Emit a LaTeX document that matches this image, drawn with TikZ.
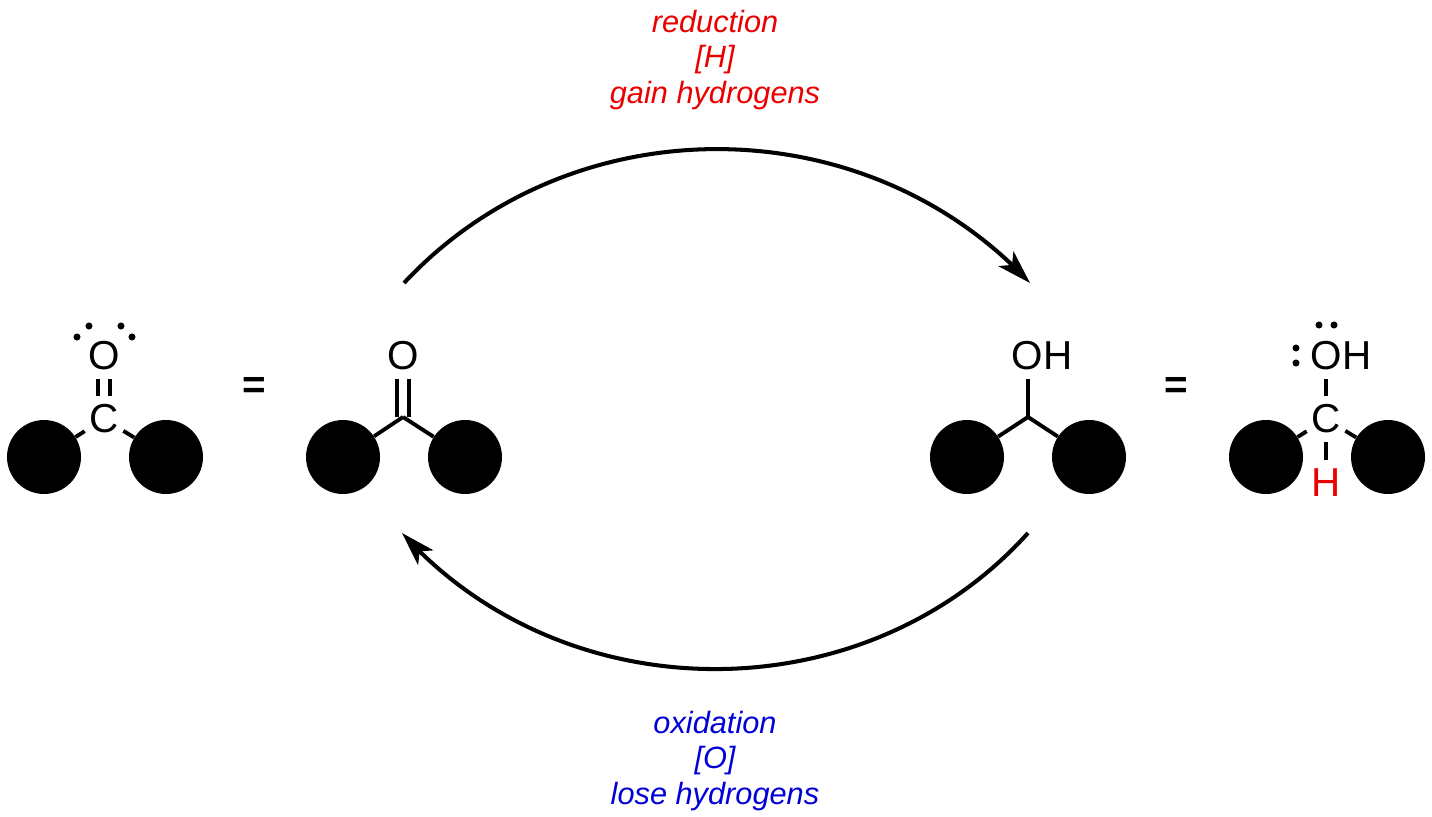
\documentclass[tikz,border=0pt]{standalone}
\usepackage{fontspec}
\setmainfont{Liberation Sans}
\usepackage{xcolor}
\usetikzlibrary{arrows.meta, bending}
\definecolor{redH}{RGB}{235,0,0}
\definecolor{blueO}{RGB}{0,0,215}
\tikzset{
  ball/.style={circle, fill=black, inner sep=0pt, minimum size=1.48cm},
  atom/.style={inner sep=0pt, minimum width=0.76cm, minimum height=0.92cm, font=\fontsize{23}{28}\selectfont},
  group/.style={inner sep=0pt, font=\fontsize{23}{28}\selectfont},
  bond/.style={line width=2.2pt},
  cyclearrow/.style={line width=2.3pt, -{Stealth[length=0.68cm, width=0.42cm, inset=0.17cm, flex]}},
  rxntext/.style={align=center, font=\fontsize{17.5}{20.4}\selectfont\itshape}
}
\begin{document}
\begin{tikzpicture}[x=0.02cm, y=-0.02cm]
\useasboundingbox (0,0) rectangle (1432,817);

% Carbonyl with lone pairs
\node[ball] (aL) at (44,457) {};
\node[ball] (aR) at (166,457) {};
\node[atom] (aC) at (104,419) {C};
\node[atom] (aO) at (104,356) {O};
\draw[bond] (aC) -- (aL);
\draw[bond] (aC) -- (aR);
\draw[bond] ([xshift=-3.4pt]aC.north) -- ([xshift=-3.4pt]aO.south);
\draw[bond] ([xshift=3.4pt]aC.north) -- ([xshift=3.4pt]aO.south);
\foreach \x/\y in {77/337, 89/326, 121/326, 132/337}
  \fill (\x,\y) circle (2pt);
\node[group, font=\fontsize{23}{28}\selectfont\bfseries] (eqL) at (254,388) {=};

% Ketone
\node[ball] (bL) at (343,457) {};
\node[ball] (bR) at (465,457) {};
\coordinate (bC) at (403,417);
\node[atom] (bO) at (403,356) {O};
\draw[bond] (bC) -- (bL);
\draw[bond] (bC) -- (bR);
\draw[bond] ([xshift=-3.4pt]bC) -- ([xshift=-3.4pt]bO.south);
\draw[bond] ([xshift=3.4pt]bC) -- ([xshift=3.4pt]bO.south);

% Alcohol
\node[ball] (cL) at (967,457) {};
\node[ball] (cR) at (1089,457) {};
\coordinate (cC) at (1028,417);
\node[group, minimum height=0.92cm] (cOH) at (1042,356) {OH};
\draw[bond] (cC) -- (cL);
\draw[bond] (cC) -- (cR);
\draw[bond] (cC) -- (cC |- cOH.south);

% Alcohol with lone pairs
\node[group, font=\fontsize{23}{28}\selectfont\bfseries] (eqR) at (1176,388) {=};
\node[ball] (dL) at (1266,457) {};
\node[ball] (dR) at (1388,457) {};
\node[atom] (dC) at (1326,419) {C};
\node[group, minimum height=0.92cm] (dOH) at (1341,356) {OH};
\node[atom, text=redH] (dH) at (1326,483) {H};
\draw[bond] (dC) -- (dL);
\draw[bond] (dC) -- (dR);
\draw[bond] (dC) -- (dC |- dOH.south);
\draw[bond] (dC) -- (dH);
\foreach \x/\y in {1319/325, 1334/325, 1296/348, 1296/363}
  \fill (\x,\y) circle (2pt);

% Cycle arrows
\coordinate (topA) at (404,283);
\coordinate (topB) at (1030,283);
\coordinate (botA) at (1028,533);
\coordinate (botB) at (402,533);
\draw[cyclearrow] (topA) to[bend left=47] (topB);
\draw[cyclearrow] (botA) to[bend left=48] (botB);

% Labels
\node[rxntext, text=redH] (redLabel) at (715,60) {reduction\\{[H]}\\gain hydrogens};
\node[rxntext, text=blueO] (oxLabel) at (715,761) {oxidation\\{[O]}\\lose hydrogens};
\end{tikzpicture}
\end{document}
